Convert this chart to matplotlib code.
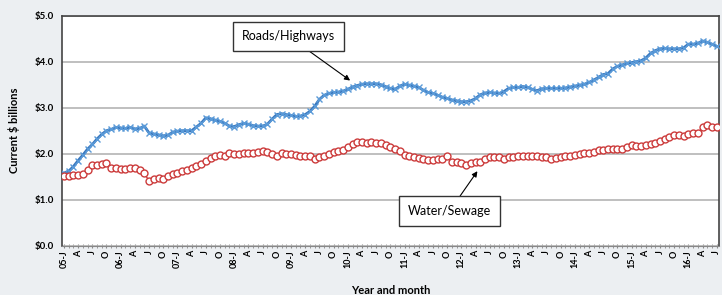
import numpy as np
import matplotlib
matplotlib.use("Agg")
import matplotlib.pyplot as plt

# monthly values, Jan 2005 .. Jul 2016, current $ billions
roads = [
    1.58, 1.62, 1.72, 1.85, 1.97, 2.10, 2.20, 2.32, 2.42, 2.50, 2.53, 2.57,
    2.56, 2.55, 2.57, 2.54, 2.55, 2.60, 2.45, 2.43, 2.41, 2.39, 2.40, 2.47,
    2.49, 2.50, 2.50, 2.50, 2.58, 2.66, 2.78, 2.76, 2.73, 2.70, 2.66, 2.60,
    2.59, 2.63, 2.66, 2.64, 2.61, 2.60, 2.60, 2.64, 2.75, 2.85, 2.87, 2.85,
    2.83, 2.81, 2.82, 2.85, 2.92, 3.03, 3.18, 3.27, 3.31, 3.33, 3.34, 3.36,
    3.40, 3.45, 3.48, 3.51, 3.52, 3.52, 3.52, 3.50, 3.46, 3.42, 3.40, 3.47,
    3.51, 3.49, 3.47, 3.44, 3.38, 3.33, 3.31, 3.27, 3.23, 3.20, 3.17, 3.15,
    3.13, 3.13, 3.15, 3.20, 3.28, 3.32, 3.33, 3.32, 3.31, 3.35, 3.42, 3.44,
    3.44, 3.46, 3.44, 3.40, 3.37, 3.41, 3.42, 3.42, 3.42, 3.42, 3.43, 3.45,
    3.47, 3.49, 3.51, 3.55, 3.60, 3.66, 3.72, 3.74, 3.84, 3.90, 3.93, 3.96,
    3.98, 4.00, 4.02, 4.08, 4.18, 4.24, 4.28, 4.29, 4.28, 4.28, 4.28, 4.30,
    4.38, 4.38, 4.40, 4.45, 4.42, 4.38, 4.33,
]
water = [
    1.52, 1.52, 1.54, 1.54, 1.56, 1.65, 1.75, 1.75, 1.77, 1.80, 1.70, 1.70,
    1.66, 1.67, 1.68, 1.70, 1.65, 1.57, 1.41, 1.45, 1.48, 1.44, 1.52, 1.56,
    1.59, 1.62, 1.65, 1.68, 1.73, 1.78, 1.84, 1.90, 1.96, 1.97, 1.95, 2.01,
    2.00, 2.00, 2.01, 2.02, 2.02, 2.04, 2.06, 2.03, 1.99, 1.94, 2.02, 1.99,
    1.99, 1.97, 1.96, 1.96, 1.94, 1.89, 1.92, 1.96, 1.99, 2.03, 2.06, 2.08,
    2.14, 2.21, 2.25, 2.26, 2.23, 2.26, 2.24, 2.23, 2.19, 2.15, 2.10, 2.06,
    1.97, 1.95, 1.92, 1.90, 1.89, 1.87, 1.87, 1.89, 1.89, 1.95, 1.83, 1.81,
    1.79, 1.76, 1.80, 1.82, 1.82, 1.88, 1.93, 1.93, 1.92, 1.88, 1.93, 1.93,
    1.95, 1.95, 1.96, 1.95, 1.95, 1.93, 1.92, 1.88, 1.90, 1.93, 1.95, 1.96,
    1.97, 1.99, 2.01, 2.02, 2.03, 2.08, 2.09, 2.10, 2.10, 2.10, 2.10, 2.15,
    2.19, 2.17, 2.17, 2.19, 2.21, 2.23, 2.28, 2.33, 2.37, 2.40, 2.41, 2.39,
    2.43, 2.44, 2.44, 2.57, 2.62, 2.59, 2.59,
]
years = ["05", "06", "07", "08", "09", "10", "11", "12", "13", "14", "15", "16"]
quarter_letters = ["J", "A", "J", "O"]
y_ticks = [0, 1, 2, 3, 4, 5]

BG = "#ECEFF2"
BLUE = "#3A78BE"
RED = "#CC3B3B"

plt.rcParams["font.family"] = ["Lato", "DejaVu Sans"]

fig = plt.figure(figsize=(7.22, 2.95), dpi=100, facecolor=BG)
ax = fig.add_axes([0.0859, 0.167, 0.9095, 0.780])
ax.set_facecolor("white")

x = np.arange(len(roads))
ax.plot(x, roads, color=BLUE, lw=2, marker="x", ms=4, mew=1,
        mec="#5A9AD8", zorder=3)
ax.plot(x, water, color=RED, lw=1, marker="o", ms=5, mew=1,
        mfc="white", mec=RED, zorder=3)

ax.set_ylim(0, 5)
ax.set_yticks(y_ticks)
ax.set_yticklabels([f"${v:.1f}" for v in y_ticks], fontsize=7, fontweight="bold")
ax.yaxis.grid(True, color="#B4B4B4", lw=1.2)
ax.set_axisbelow(True)
ax.tick_params(axis="y", length=0, pad=6)

# quarterly labels, monthly ticks
tick_pos, tick_lab = [], []
for i, yr in enumerate(years):
    for q, letter in enumerate(quarter_letters):
        m = i * 12 + q * 3
        if m < len(roads):
            tick_pos.append(m)
            tick_lab.append(f"{yr}-{letter}" if q == 0 else letter)
ax.set_xticks(tick_pos)
ax.set_xticklabels(tick_lab, rotation=90, fontsize=6.5, fontweight="bold")
ax.set_xticks(x, minor=True)
ax.tick_params(axis="x", which="both", direction="inout", length=3,
               color="#888888", pad=2)
ax.set_xlim(-0.4, len(roads) - 0.6)

for side in ["left", "top", "right"]:
    ax.spines[side].set_color("#444444")
    ax.spines[side].set_linewidth(1.2)
ax.spines["bottom"].set_color("#888888")

ax.set_ylabel("Current $ billions", fontsize=8, fontweight="bold", labelpad=10)
ax.set_xlabel("Year and month", fontsize=8, fontweight="bold", labelpad=12)

box = dict(boxstyle="square,pad=0.7", fc="white", ec="#333333", lw=1)
ax.annotate("Roads/Highways", xy=(60.5, 3.59), xytext=(47.5, 4.55),
            fontsize=9, ha="center", va="center", bbox=box,
            arrowprops=dict(arrowstyle="-|>", color="black", lw=0.8,
                            shrinkA=0, shrinkB=0, mutation_scale=8))
ax.annotate("Water/Sewage", xy=(87.4, 1.62), xytext=(81.5, 0.75),
            fontsize=9, ha="center", va="center", bbox=box,
            arrowprops=dict(arrowstyle="-|>", color="black", lw=0.8,
                            shrinkA=0, shrinkB=0, mutation_scale=8))

fig.savefig("out.png", dpi=100, facecolor=BG)
